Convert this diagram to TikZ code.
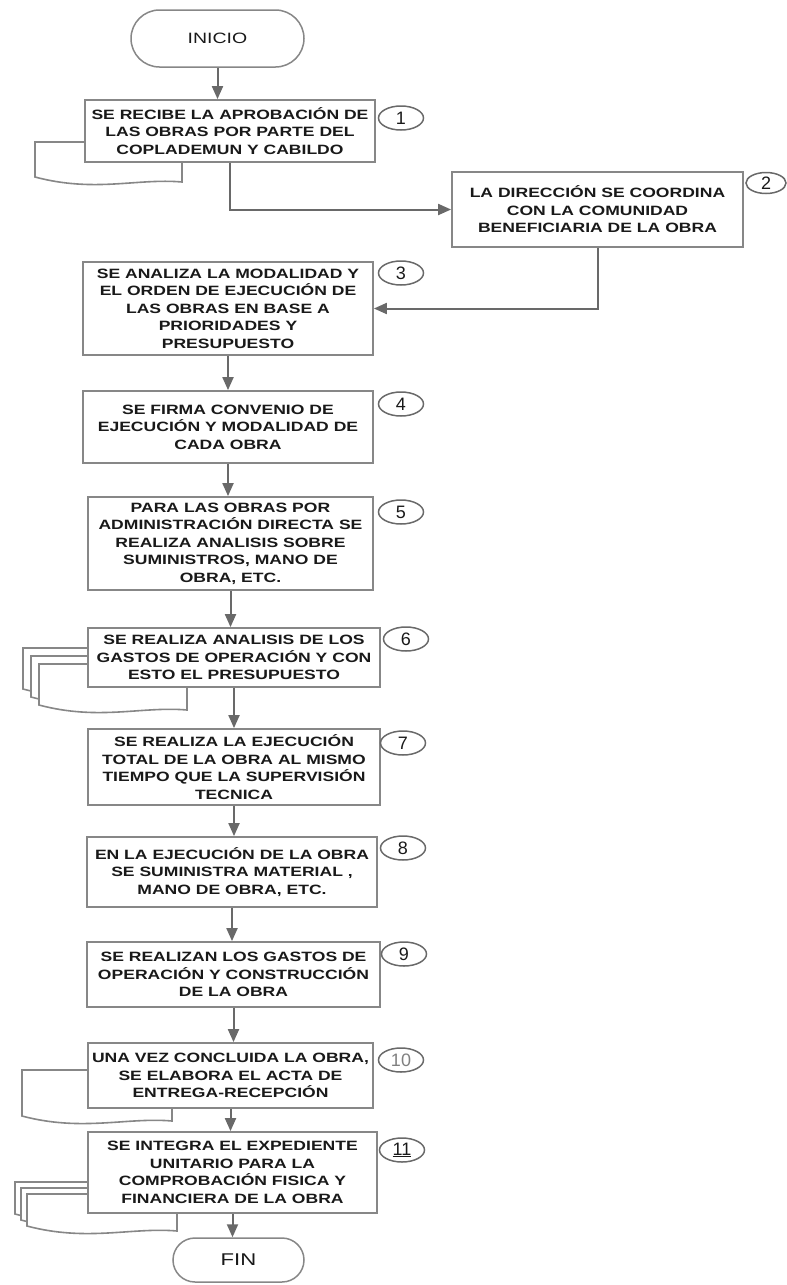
\documentclass[tikz,border=0pt]{standalone}
\usepackage{fontspec}
\setmainfont{Liberation Sans}[FakeStretch=1.3]
\newfontfamily\numfont{Liberation Sans}
\usetikzlibrary{arrows.meta,shapes.geometric,shapes.misc,calc}
\definecolor{boxgray}{RGB}{135,135,135}
\definecolor{arrgray}{RGB}{105,105,105}
\definecolor{txt}{RGB}{25,25,25}
\tikzset{
  stepbox/.style={draw=boxgray,line width=1.8pt,fill=white,rectangle,inner sep=1pt,
    align=center,text=txt,font=\fontsize{13.5}{17.5}\selectfont\bfseries},
  term/.style={draw=boxgray,line width=1.5pt,fill=white,rounded rectangle,inner sep=1pt,text=txt},
  numtag/.style={draw=arrgray,line width=1.5pt,ellipse,minimum width=45pt,minimum height=24pt,
    inner sep=0pt,font=\numfont\fontsize{18}{18}\selectfont,text=txt},
  flow/.style={draw=arrgray,line width=2pt,-{Triangle[length=13pt,width=11pt]}},
  docline/.style={draw=boxgray,line width=1.6pt,fill=white}
}
\newcommand{\mydoc}[4]{%
  \path[docline] (#1,#2) -- (#3,#2) -- (#3,#4+5)
    .. controls ($(#3,#4+5)+(-45,-4)$) and ($(#1,#4)+(60,16)$) .. (#1,#4) -- cycle;}
\begin{document}
\begin{tikzpicture}[x=1pt,y=-1pt]
\useasboundingbox (0,0) rectangle (787,1285);
% document shapes (behind boxes)
\mydoc{35}{142}{182}{177}
\mydoc{23}{648}{171}{689}
\mydoc{31}{656}{179}{697}
\mydoc{39}{664}{187}{705}
\mydoc{22}{1070}{172}{1116}
\mydoc{15}{1182}{165}{1214}
\mydoc{21}{1188}{171}{1220}
\mydoc{27}{1194}{177}{1226}

\node[term,minimum width=175pt,minimum height=57pt,font=\fontsize{15}{15}\selectfont] (start) at (217.5,38.5) {INICIO};
\node[stepbox,minimum width=290pt,minimum height=62pt] (b1) at (230,131)
  {SE RECIBE LA APROBACIÓN DE\\LAS OBRAS POR PARTE DEL\\COPLADEMUN Y CABILDO};
\node[stepbox,minimum width=291pt,minimum height=75pt] (b2) at (597.5,209.5)
  {LA DIRECCIÓN SE COORDINA\\CON LA COMUNIDAD\\BENEFICIARIA DE LA OBRA};
\node[stepbox,minimum width=290pt,minimum height=93pt] (b3) at (228,308.5)
  {SE ANALIZA LA MODALIDAD Y\\EL ORDEN DE EJECUCIÓN DE\\LAS OBRAS EN BASE A\\PRIORIDADES Y\\PRESUPUESTO};
\node[stepbox,minimum width=290pt,minimum height=72pt] (b4) at (228,427)
  {SE FIRMA CONVENIO DE\\EJECUCIÓN Y MODALIDAD DE\\CADA OBRA};
\node[stepbox,minimum width=285pt,minimum height=93pt] (b5) at (230.5,543.5)
  {PARA LAS OBRAS POR\\ADMINISTRACIÓN DIRECTA SE\\REALIZA ANALISIS SOBRE\\SUMINISTROS, MANO DE\\OBRA, ETC.};
\node[stepbox,minimum width=292pt,minimum height=59pt] (b6) at (234,657.5)
  {SE REALIZA ANALISIS DE LOS\\GASTOS DE OPERACIÓN Y CON\\ESTO EL PRESUPUESTO};
\node[stepbox,minimum width=292pt,minimum height=76pt] (b7) at (234,767)
  {SE REALIZA LA EJECUCIÓN\\TOTAL DE LA OBRA AL MISMO\\TIEMPO QUE LA SUPERVISIÓN\\TECNICA};
\node[stepbox,minimum width=290pt,minimum height=70pt] (b8) at (232,872)
  {EN LA EJECUCIÓN DE LA OBRA\\SE SUMINISTRA MATERIAL ,\\MANO DE OBRA, ETC.};
\node[stepbox,minimum width=293pt,minimum height=65pt] (b9) at (233.5,974.5)
  {SE REALIZAN LOS GASTOS DE\\OPERACIÓN Y CONSTRUCCIÓN\\DE LA OBRA};
\node[stepbox,minimum width=285pt,minimum height=65pt] (b10) at (230.5,1075.5)
  {UNA VEZ CONCLUIDA LA OBRA,\\SE ELABORA EL ACTA DE\\ENTREGA-RECEPCIÓN};
\node[stepbox,minimum width=289pt,minimum height=81pt] (b11) at (232.5,1172.5)
  {SE INTEGRA EL EXPEDIENTE\\UNITARIO PARA LA\\COMPROBACIÓN FISICA Y\\FINANCIERA DE LA OBRA};
\node[term,minimum width=133pt,minimum height=44pt,font=\fontsize{17}{17}\selectfont] (fin) at (238.5,1260) {FIN};

% number tags
\node[numtag] (n1) at (401,118) {1};
\node[numtag,minimum width=40pt,minimum height=21pt] (n2) at (766,183) {2};
\node[numtag] (n3) at (401,273) {3};
\node[numtag] (n4) at (401,404) {4};
\node[numtag] (n5) at (401,512) {5};
\node[numtag] (n6) at (406,639) {6};
\node[numtag] (n7) at (403,743) {7};
\node[numtag] (n8) at (403,848) {8};
\node[numtag] (n9) at (404,954) {9};
\node[numtag,text=gray] (n10) at (401,1060) {10};
\node[numtag] (n11) at (402,1150) {\underline{11}};

% connectors
\draw[flow] (start.south) -- (start.south |- b1.north);
\draw[flow] (b1.south) |- (b2.west);
\draw[flow] (b2.south) |- (b3.east);
\draw[flow] (b3.south) -- (b3.south |- b4.north);
\draw[flow] (b4.south) -- (b4.south |- b5.north);
\draw[flow] (b5.south) -- (b5.south |- b6.north);
\draw[flow] (b6.south) -- (b6.south |- b7.north);
\draw[flow] (b7.south) -- (b7.south |- b8.north);
\draw[flow] (b8.south) -- (b8.south |- b9.north);
\draw[flow] (b9.south) -- (b9.south |- b10.north);
\draw[flow] (b10.south) -- (b10.south |- b11.north);
\draw[flow] (b11.south) -- (b11.south |- fin.north);
\end{tikzpicture}
\end{document}
